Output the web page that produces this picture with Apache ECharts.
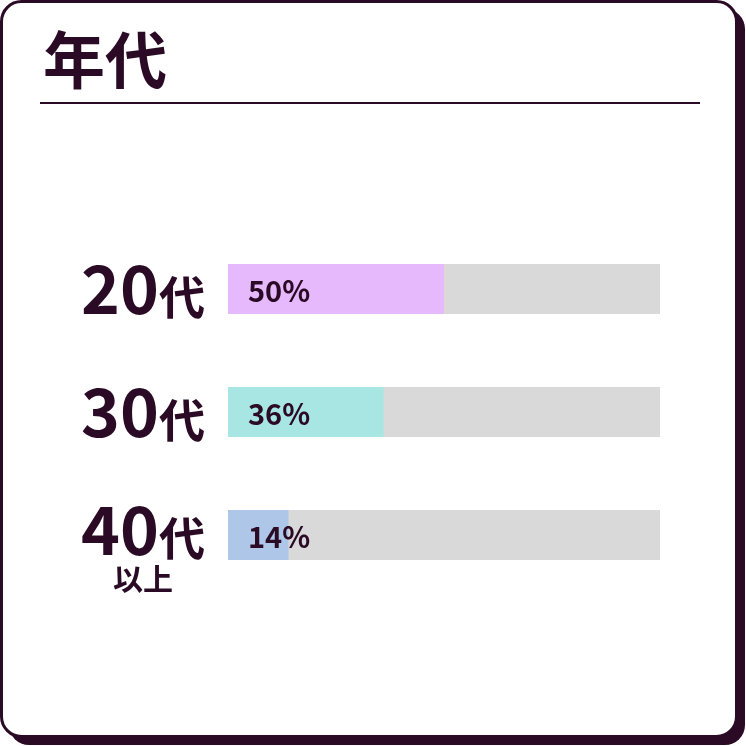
<!DOCTYPE html>
<html>
<head>
<meta charset="utf-8">
<script src="https://cdn.jsdelivr.net/npm/echarts@6/dist/echarts.min.js"></script>
<style>
  html, body { margin: 0; padding: 0; background: #fff; }
  #chart { width: 746px; height: 746px; }
</style>
</head>
<body>
<div id="chart"></div>
<script>
// データ
const titleText = "年代";
const ageNums = ["20", "30", "40"];
const ageSubs = ["", "", "以上"];
const shares = [50, 36, 14];
const barColors = ["#e6b8fc", "#a8e6e3", "#aec7e8"];

const INK = "#2a0a24";
const FONT = "'Noto Sans CJK JP', 'Noto Sans', sans-serif";

// 二行ラベルは下に寄せる
const categories = ageNums.map((n, i) => ({
  value: n + "代" + ageSubs[i],
  textStyle: ageSubs[i] ? { padding: [26, 0, 0, 0] } : {}
}));

const chart = echarts.init(document.getElementById("chart"));

chart.setOption({
  animation: false,
  title: {
    text: titleText,
    left: 38,
    top: 24,
    textStyle: { fontFamily: FONT, fontSize: 62, fontWeight: "bold", color: INK }
  },
  graphic: [
    // 影
    { type: "rect", z: -10, shape: { x: 9, y: 9, width: 736, height: 736, r: 20 }, style: { fill: INK } },
    // カード
    { type: "rect", z: -9, shape: { x: 1.5, y: 1.5, width: 735, height: 735, r: 20 }, style: { fill: "#fff", stroke: INK, lineWidth: 3 } },
    // 見出しの下線
    { type: "line", z: -8, shape: { x1: 40, y1: 103, x2: 700, y2: 103 }, style: { stroke: INK, lineWidth: 2 } }
  ],
  grid: { left: 228, right: 86, top: 227.5, bottom: 149.5 },
  xAxis: { type: "value", min: 0, max: 100, show: false },
  yAxis: {
    type: "category",
    inverse: true,
    data: categories,
    axisLine: { show: false },
    axisTick: { show: false },
    axisLabel: {
      margin: 23,
      fontFamily: FONT,
      color: INK,
      formatter: (val, idx) => {
        let s = "{num|" + ageNums[idx] + "}{dai|代}";
        if (ageSubs[idx]) s += "\n{sub|" + ageSubs[idx] + "}";
        return s;
      },
      rich: {
        num: { fontFamily: FONT, fontSize: 66, fontWeight: "bold", color: INK, lineHeight: 62 },
        dai: { fontFamily: FONT, fontSize: 46, fontWeight: "bold", color: INK, lineHeight: 62, verticalAlign: "bottom" },
        sub: { fontFamily: FONT, fontSize: 30, fontWeight: "bold", color: INK, lineHeight: 36, align: "center" }
      }
    }
  },
  series: [{
    type: "bar",
    data: shares.map((v, i) => ({ value: v, itemStyle: { color: barColors[i] } })),
    barWidth: 50,
    showBackground: true,
    backgroundStyle: { color: "#d9d9d9" },
    label: {
      show: true,
      position: "insideLeft",
      distance: 20,
      offset: [0, 2],
      formatter: "{c}%",
      fontFamily: FONT,
      fontSize: 29,
      fontWeight: "bold",
      color: INK
    }
  }]
});
</script>
</body>
</html>
